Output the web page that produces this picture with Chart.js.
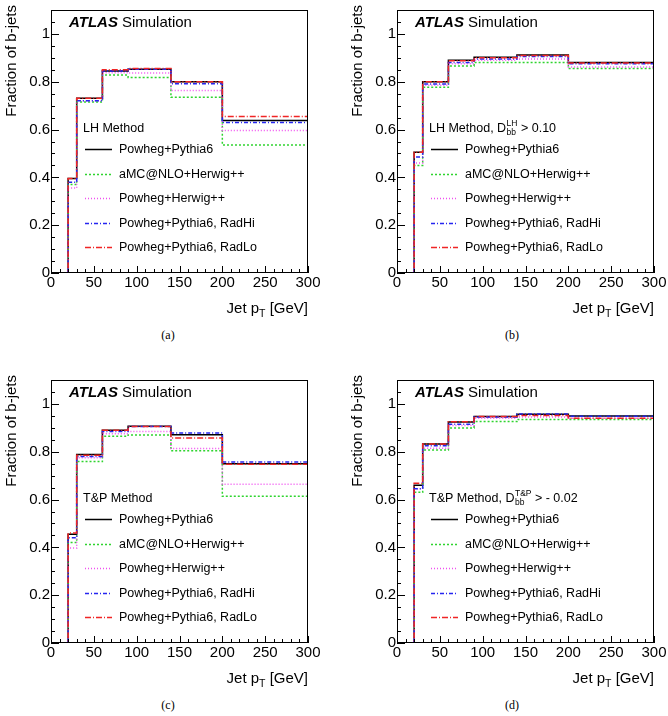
<!DOCTYPE html>
<html>
<head>
<meta charset="utf-8">
<script src="https://cdn.jsdelivr.net/npm/chart.js@4.4.1/dist/chart.umd.min.js"></script>
<style>
  body { margin: 0; background: #fff; width: 668px; height: 716px; position: relative; overflow: hidden; }
  canvas { position: absolute; }
  .cap { position: absolute; width: 40px; text-align: center; font: 12px "Liberation Serif", serif; color: #000; }
</style>
</head>
<body>
<canvas id="panel-a" width="322" height="325" style="left:0;top:0"></canvas>
<canvas id="panel-b" width="322" height="325" style="left:346px;top:0"></canvas>
<canvas id="panel-c" width="322" height="325" style="left:0;top:370px"></canvas>
<canvas id="panel-d" width="322" height="325" style="left:346px;top:370px"></canvas>
<div class="cap" style="left:148px;top:328px">(a)</div>
<div class="cap" style="left:492px;top:328px">(b)</div>
<div class="cap" style="left:148px;top:698px">(c)</div>
<div class="cap" style="left:492px;top:698px">(d)</div>
<script>
// bin edges of the jet pT histograms (GeV)
const binEdges = [0, 20, 30, 60, 90, 140, 200, 300];
const xTicks = [0, 50, 100, 150, 200, 250, 300];
const yTicks = [0, 0.2, 0.4, 0.6, 0.8, 1];

const seriesNames = ['Powheg+Pythia6', 'aMC@NLO+Herwig++', 'Powheg+Herwig++', 'Powheg+Pythia6, RadHi', 'Powheg+Pythia6, RadLo'];

// (a) LH method
const lhPowPy6 = [0, 0.395, 0.731, 0.845, 0.852, 0.800, 0.638];
const lhAmcHw = [0, 0.370, 0.715, 0.828, 0.818, 0.735, 0.535];
const lhPowHw = [0, 0.355, 0.720, 0.838, 0.836, 0.763, 0.596];
const lhRadHi = [0, 0.380, 0.720, 0.845, 0.852, 0.792, 0.629];
const lhRadLo = [0, 0.395, 0.731, 0.850, 0.855, 0.800, 0.655];

// (b) LH method, D_bb > 0.10
const lhCutPowPy6 = [0, 0.505, 0.800, 0.890, 0.902, 0.912, 0.880];
const lhCutAmcHw = [0, 0.450, 0.777, 0.866, 0.880, 0.880, 0.855];
const lhCutPowHw = [0, 0.460, 0.785, 0.875, 0.890, 0.895, 0.862];
const lhCutRadHi = [0, 0.485, 0.790, 0.880, 0.895, 0.905, 0.875];
const lhCutRadLo = [0, 0.505, 0.800, 0.888, 0.900, 0.910, 0.878];

// (c) T&P method
const tpPowPy6 = [0, 0.455, 0.788, 0.890, 0.907, 0.871, 0.750];
const tpAmcHw = [0, 0.420, 0.759, 0.865, 0.870, 0.804, 0.614];
const tpPowHw = [0, 0.397, 0.775, 0.875, 0.885, 0.813, 0.664];
const tpRadHi = [0, 0.440, 0.780, 0.885, 0.905, 0.878, 0.757];
const tpRadLo = [0, 0.460, 0.785, 0.890, 0.905, 0.857, 0.748];

// (d) T&P method, D_bb > -0.02
const tpCutPowPy6 = [0, 0.660, 0.832, 0.924, 0.947, 0.957, 0.949];
const tpCutAmcHw = [0, 0.630, 0.807, 0.899, 0.926, 0.935, 0.935];
const tpCutPowHw = [0, 0.645, 0.815, 0.910, 0.940, 0.945, 0.940];
const tpCutRadHi = [0, 0.645, 0.825, 0.915, 0.945, 0.958, 0.948];
const tpCutRadLo = [0, 0.668, 0.832, 0.925, 0.947, 0.952, 0.940];

const lineColors = ['#000000', '#2fd42f', '#f050f0', '#2525f0', '#f02525'];
const lineDashes = [[], [2, 2], [1, 2], [4, 2, 1, 2], [6, 2, 1, 2]];
const lineWidths = [1.5, 1.5, 1.5, 1.5, 1.5];

const FONT = '"Liberation Sans", Arial, sans-serif';

const rootFrame = {
  id: 'rootFrame',
  afterDatasetsDraw(chart, args, opts) {
    const { ctx, chartArea: a, scales: { x, y } } = chart;
    ctx.save();
    ctx.strokeStyle = '#000';
    ctx.lineWidth = 1;
    ctx.setLineDash([]);
    ctx.strokeRect(Math.round(a.left) + 0.5, Math.round(a.top) + 0.5, Math.round(a.right - a.left) - 1, Math.round(a.bottom - a.top) - 1);

    // inward ticks, ROOT style
    ctx.beginPath();
    for (let i = 0; i < xTicks.length; i++) {
      const v = xTicks[i];
      const px = Math.round(x.getPixelForValue(v)) + 0.5;
      ctx.moveTo(px, a.bottom);
      ctx.lineTo(px, a.bottom - 7);
      if (i < xTicks.length - 1) {
        const step = (xTicks[i + 1] - v) / 5;
        for (let k = 1; k < 5; k++) {
          const mx = Math.round(x.getPixelForValue(v + k * step)) + 0.5;
          ctx.moveTo(mx, a.bottom);
          ctx.lineTo(mx, a.bottom - 4);
        }
      }
    }
    const yTop = y.max;
    for (let i = 0; i < yTicks.length; i++) {
      const v = yTicks[i];
      const py = Math.round(y.getPixelForValue(v)) + 0.5;
      ctx.moveTo(a.left, py);
      ctx.lineTo(a.left + 8, py);
      const step = 0.05;
      for (let k = 1; k < 4; k++) {
        const mv = v + k * step;
        if (mv > yTop) break;
        const my = Math.round(y.getPixelForValue(mv)) + 0.5;
        ctx.moveTo(a.left, my);
        ctx.lineTo(a.left + 4, my);
      }
    }
    ctx.stroke();

    // ATLAS Simulation
    ctx.fillStyle = '#000';
    ctx.textBaseline = 'alphabetic';
    ctx.textAlign = 'left';
    ctx.font = 'italic bold 15px ' + FONT;
    ctx.fillText('ATLAS', a.left + 18, a.top + 17);
    const wAtlas = ctx.measureText('ATLAS').width;
    ctx.font = '15px ' + FONT;
    ctx.fillText('Simulation', a.left + 18 + wAtlas + 4, a.top + 17);

    // legend
    const lx = a.left + 32;
    const hy = a.top + 119;
    ctx.textBaseline = 'middle';
    ctx.font = '12.5px ' + FONT;
    const h = opts.header;
    ctx.fillText(h.text, lx, hy);
    if (h.sup) {
      let hx = lx + ctx.measureText(h.text).width + 0.5;
      ctx.font = '8.5px ' + FONT;
      ctx.fillText(h.sup, hx, hy - 5);
      ctx.fillText(h.sub, hx, hy + 4);
      hx += Math.max(ctx.measureText(h.sup).width, ctx.measureText(h.sub).width);
      ctx.font = '12.5px ' + FONT;
      ctx.fillText(h.tail, hx, hy);
    }
    chart.data.datasets.forEach((ds, i) => {
      const ey = Math.round(a.top + 139 + i * 24.6) + 0.5;
      ctx.strokeStyle = ds.borderColor;
      ctx.lineWidth = ds.borderWidth;
      ctx.setLineDash(ds.borderDash || []);
      ctx.beginPath();
      ctx.moveTo(a.left + 34, ey);
      ctx.lineTo(a.left + 61, ey);
      ctx.stroke();
      ctx.setLineDash([]);
      ctx.fillStyle = '#000';
      ctx.fillText(ds.label, a.left + 68, ey);
    });

    // axis titles
    ctx.font = '15px ' + FONT;
    ctx.save();
    ctx.translate(12, 5);
    ctx.rotate(-Math.PI / 2);
    ctx.textAlign = 'right';
    ctx.textBaseline = 'middle';
    ctx.fillText('Fraction of b-jets', 0, 0);
    ctx.restore();

    ctx.textBaseline = 'alphabetic';
    const w1 = ctx.measureText('Jet p').width;
    const w3 = ctx.measureText(' [GeV]').width;
    ctx.font = '10.5px ' + FONT;
    const w2 = ctx.measureText('T').width;
    const tx = a.right - (w1 + w2 + w3);
    const ty = a.bottom + 40;
    ctx.fillText('T', tx + w1, ty + 4);
    ctx.font = '15px ' + FONT;
    ctx.fillText('Jet p', tx, ty);
    ctx.fillText(' [GeV]', tx + w1 + w2, ty);
    ctx.restore();
  }
};

function makePanel(id, series, header) {
  const datasets = series.map((vals, i) => ({
    label: seriesNames[i],
    data: binEdges.map((edge, k) => ({ x: edge, y: vals[Math.min(k, vals.length - 1)] })),
    borderColor: lineColors[i],
    borderWidth: lineWidths[i],
    borderDash: lineDashes[i],
    stepped: true,
    pointRadius: 0,
    fill: false,
    order: series.length - i
  }));

  const canvas = document.getElementById(id);
  return new Chart(canvas.getContext('2d'), {
    type: 'line',
    data: { datasets },
    plugins: [rootFrame],
    options: {
      responsive: false,
      animation: false,
      layout: { padding: { left: 0, top: 7, right: canvas.width - 308, bottom: 0 } },
      plugins: {
        legend: { display: false },
        tooltip: { enabled: false },
        rootFrame: { header }
      },
      scales: {
        x: {
          type: 'linear',
          min: 0,
          max: 300,
          grid: { display: false, drawTicks: false },
          border: { display: false },
          afterBuildTicks(scale) { scale.ticks = xTicks.map((v) => ({ value: v })); },
          afterFit(scale) { scale.height = canvas.height - 273; },
          ticks: {
            autoSkip: false,
            maxRotation: 0,
            padding: 1,
            color: '#000',
            font: { family: FONT, size: 15 },
            callback(value) { return String(value); }
          }
        },
        y: {
          min: 0,
          max: 1.1,
          grid: { display: false, drawTicks: false },
          border: { display: false },
          afterBuildTicks(scale) { scale.ticks = yTicks.map((v) => ({ value: v })); },
          afterFit(scale) { scale.width = 51; },
          ticks: {
            autoSkip: false,
            padding: 1,
            color: '#000',
            font: { family: FONT, size: 15 },
            callback(value) { return String(value); }
          }
        }
      }
    }
  });
}

makePanel('panel-a', [lhPowPy6, lhAmcHw, lhPowHw, lhRadHi, lhRadLo], { text: 'LH Method' });
makePanel('panel-b', [lhCutPowPy6, lhCutAmcHw, lhCutPowHw, lhCutRadHi, lhCutRadLo], { text: 'LH Method, D', sup: 'LH', sub: 'bb', tail: ' > 0.10' });
makePanel('panel-c', [tpPowPy6, tpAmcHw, tpPowHw, tpRadHi, tpRadLo], { text: 'T&P Method' });
makePanel('panel-d', [tpCutPowPy6, tpCutAmcHw, tpCutPowHw, tpCutRadHi, tpCutRadLo], { text: 'T&P Method, D', sup: 'T&P', sub: 'bb', tail: ' > - 0.02' });
</script>
</body>
</html>
